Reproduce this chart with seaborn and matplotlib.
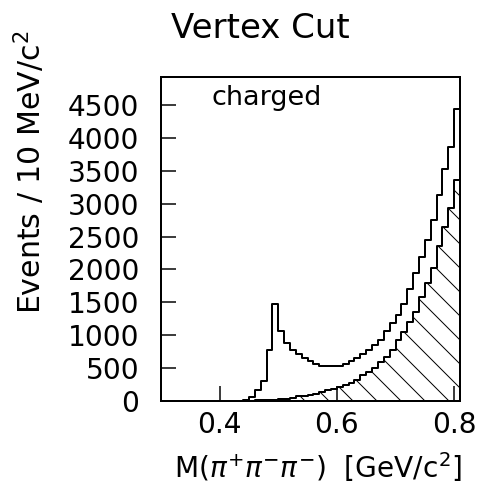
import numpy as np
import pandas as pd
import matplotlib
matplotlib.use("Agg")
import matplotlib.pyplot as plt
import seaborn as sns

# lower bin edges (GeV/c^2), 10 MeV bins
bin_low = [0.30, 0.31, 0.32, 0.33, 0.34, 0.35, 0.36, 0.37, 0.38, 0.39,
           0.40, 0.41, 0.42, 0.43, 0.44, 0.45, 0.46, 0.47, 0.48, 0.49,
           0.50, 0.51, 0.52, 0.53, 0.54, 0.55, 0.56, 0.57, 0.58, 0.59,
           0.60, 0.61, 0.62, 0.63, 0.64, 0.65, 0.66, 0.67, 0.68, 0.69,
           0.70, 0.71, 0.72, 0.73, 0.74, 0.75, 0.76, 0.77, 0.78, 0.79,
           0.80]
total_counts = [0, 0, 0, 0, 0, 0, 0, 0, 0, 0,
                0, 0, 0, 5, 20, 65, 160, 310, 771, 1482,
                1068, 885, 775, 715, 660, 608, 570, 538, 528, 528,
                535, 568, 610, 660, 712, 780, 858, 930, 1060, 1190,
                1300, 1470, 1700, 1945, 2193, 2447, 2745, 3135, 3530, 3867,
                4436]
background_counts = [0, 0, 0, 0, 0, 0, 0, 0, 0, 0,
                     0, 0, 0, 0, 3, 6, 10, 13, 16, 20,
                     25, 32, 50, 70, 82, 96, 112, 137, 162, 180,
                     213, 249, 280, 325, 390, 441, 507, 600, 670, 781,
                     923, 1050, 1203, 1360, 1584, 1787, 2015, 2350, 2650, 2928,
                     3359]
bin_width = 0.01
x_ticks = [0.4, 0.6, 0.8]
x_tick_labels = ["0.4", "0.6", "0.8"]
y_ticks = [0, 500, 1000, 1500, 2000, 2500, 3000, 3500, 4000, 4500]
y_tick_labels = [str(v) for v in y_ticks]

sns.set_style("white")
plt.rcParams["font.family"] = ["DejaVu Sans"]
plt.rcParams["text.color"] = "black"
plt.rcParams["hatch.linewidth"] = 1.0
plt.rcParams["hatch.color"] = "black"

W, H = 480, 486
DPI = 72
fig = plt.figure(figsize=(W / DPI, H / DPI), dpi=DPI)
ax = fig.add_axes([161 / W, 1 - 401 / H, (460 - 161) / W, (401 - 77) / H])

lows = np.array(bin_low)
df = pd.DataFrame({"mass": lows + bin_width / 2,
                   "total": total_counts,
                   "background": background_counts})
n_bins = len(bin_low)
b_range = (bin_low[0], bin_low[-1] + bin_width)

sns.histplot(data=df, x="mass", weights="total", bins=n_bins,
             binrange=b_range, element="step",
             fill=False, color="black", linewidth=2, ax=ax)
sns.histplot(data=df, x="mass", weights="background", bins=n_bins,
             binrange=b_range, element="step", fill=True, color="black",
             linewidth=2, ax=ax)
poly = ax.collections[-1]
poly.set_alpha(1)
poly.set_facecolor("none")
poly.set_edgecolor("black")
poly.set_linewidth(2)
poly.set_hatch("\\")

ax.set_xlim(0.3, 0.81)
ax.set_ylim(0, 4925)
ax.set_xticks(x_ticks)
ax.set_xticklabels(x_tick_labels)
ax.set_yticks(y_ticks)
ax.set_yticklabels(y_tick_labels)
ax.tick_params(axis="both", direction="in", length=15, width=1.5,
               labelsize=28, color="black", labelcolor="black",
               bottom=True, left=True, top=False, right=False)
ax.tick_params(axis="y", pad=22)
ax.tick_params(axis="x", pad=10)
ax.set_xlabel("")
ax.set_ylabel("")
for s in ax.spines.values():
    s.set_visible(True)
    s.set_linewidth(2)
    s.set_color("black")

ax.text(0.386, 4500, "charged", fontsize=27, ha="left", va="baseline",
        color="black")

fig.text(260 / W, 1 - 38 / H, "Vertex Cut", fontsize=34, ha="center",
         va="baseline", color="black")
fig.text(462 / W, 1 - 478 / H, r"M($\pi^{+}\pi^{-}\pi^{-}$)  [GeV/c$^{2}$]",
         fontsize=28, ha="right", va="baseline", color="black")
fig.text(30 / W, 1 - 172 / H, r"Events / 10 MeV/c$^{2}$", fontsize=30,
         rotation=90, ha="center", va="center", color="black")

fig.savefig("out.png", dpi=DPI)
